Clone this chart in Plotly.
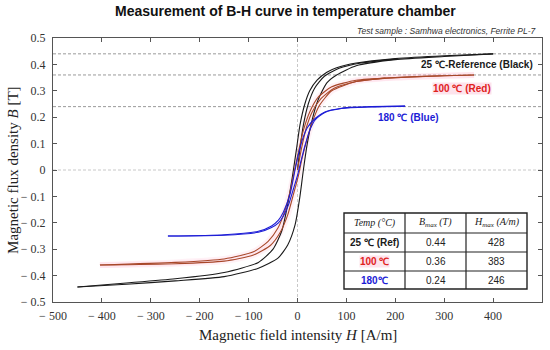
import plotly.graph_objects as go

# ---------------- data ----------------
# 25 C (black) loop
blk_desc_H = [400, 300, 200, 120, 80, 60, 40, 25, 15, 5, -2, -10, -20, -32, -50, -80, -150, -250, -350, -450]
blk_desc_B = [0.44, 0.433, 0.422, 0.405, 0.387, 0.37, 0.34, 0.30, 0.25, 0.17, 0.08, -0.02, -0.13, -0.23, -0.30, -0.35, -0.388, -0.412, -0.428, -0.443]
blk_asc_H = [-450, -350, -250, -150, -80, -40, -20, -5, 5, 12, 20, 30, 42, 60, 80, 120, 200, 300, 400]
blk_asc_B = [-0.443, -0.433, -0.42, -0.404, -0.372, -0.334, -0.284, -0.208, -0.10, 0.0, 0.10, 0.19, 0.265, 0.33, 0.36, 0.395, 0.418, 0.43, 0.44]
blk_init_H = [0, 5, 12, 22, 35, 55, 85, 130, 200]
blk_init_B = [0.0, 0.08, 0.17, 0.25, 0.31, 0.355, 0.385, 0.405, 0.42]

# 100 C (red) loop
red_desc_H = [361, 300, 200, 120, 70, 42, 25, 12, 2, -6, -15, -25, -40, -60, -90, -150, -250, -404]
red_desc_B = [0.36, 0.357, 0.35, 0.34, 0.315, 0.275, 0.22, 0.15, 0.07, 0.0, -0.08, -0.15, -0.22, -0.27, -0.31, -0.337, -0.35, -0.36]
red_asc_H = [-404, -250, -150, -90, -55, -35, -20, -8, 2, 10, 20, 30, 45, 70, 120, 200, 300, 361]
red_asc_B = [-0.36, -0.355, -0.345, -0.322, -0.285, -0.235, -0.17, -0.09, -0.02, 0.05, 0.12, 0.18, 0.245, 0.30, 0.335, 0.35, 0.357, 0.36]
red_init_H = [0, 8, 18, 30, 48, 75, 120, 180]
red_init_B = [0.0, 0.08, 0.16, 0.22, 0.27, 0.31, 0.335, 0.348]

# 180 C (blue) loop
blu_desc_H = [220, 150, 118, 90, 56, 36, 20, 10, 2, -5, -15, -29, -39, -53, -80, -150, -265]
blu_desc_B = [0.242, 0.240, 0.238, 0.234, 0.22, 0.195, 0.16, 0.115, 0.06, 0.0, -0.09, -0.16, -0.19, -0.212, -0.232, -0.245, -0.25]
blu_asc_H = [-265, -150, -80, -53, -39, -29, -18, -8, 0, 8, 15, 25, 36, 56, 90, 150, 220]
blu_asc_B = [-0.25, -0.247, -0.236, -0.218, -0.2, -0.175, -0.13, -0.07, -0.02, 0.04, 0.09, 0.15, 0.19, 0.218, 0.233, 0.239, 0.242]

# table
table_header = ["<i>Temp (°C)</i>", "<i>B<sub>max</sub> (T)</i>", "<i>H<sub>max</sub> (A/m)</i>"]
temps = ["25 ℃ (Ref)", "100 ℃", "180℃"]
bmax = [0.44, 0.36, 0.24]
hmax = [428, 383, 246]

x_ticks = [-500, -400, -300, -200, -100, 0, 100, 200, 300, 400, 500]
y_ticks = [-0.5, -0.4, -0.3, -0.2, -0.1, 0, 0.1, 0.2, 0.3, 0.4, 0.5]
zero_lines = [0]

BLACK = "#1a1a1a"
RED_LINE = "#a8482a"
RED_TXT = "#e0221c"
BLUE = "#1c1cd6"
PINK_BG = "#fde3ec"
SERIF = "Liberation Serif, Times New Roman, serif"
SANS = "Liberation Sans, Arial, sans-serif"

# plot-area geometry (pixels) used to place the table
L, R, T, B = 53, 542, 38, 302


def px(xp):
    return (xp - L) / (R - L)


def py(yp):
    return (B - yp) / (B - T)


def fmt(v, dec):
    s = f"{abs(v):.{dec}f}"
    if v < 0:
        return "− " + s
    return "0" if v == 0 else s


fig = go.Figure()

# faint pink glow under red loop
for h, b in [(red_desc_H, red_desc_B), (red_asc_H, red_asc_B)]:
    fig.add_trace(go.Scatter(x=h, y=b, mode="lines", line=dict(color="rgba(255,190,215,0.22)", width=6, shape="spline", smoothing=0.6),
                             hoverinfo="skip", showlegend=False))

series = [
    (blk_desc_H, blk_desc_B, BLACK), (blk_asc_H, blk_asc_B, BLACK), (blk_init_H, blk_init_B, BLACK),
    (red_desc_H, red_desc_B, RED_LINE), (red_asc_H, red_asc_B, RED_LINE), (red_init_H, red_init_B, RED_LINE),
    (blu_desc_H, blu_desc_B, BLUE), (blu_asc_H, blu_asc_B, BLUE),
]
for h, b, c in series:
    fig.add_trace(go.Scatter(x=h, y=b, mode="lines", line=dict(color=c, width=1.1, shape="spline", smoothing=0.6),
                             showlegend=False))

shapes = []
for v in bmax:
    shapes.append(dict(type="line", xref="paper", x0=0, x1=1, yref="y", y0=v, y1=v, layer="below",
                       line=dict(color="#9a9a9a", width=1, dash="3px,2px")))
for v in zero_lines:
    shapes.append(dict(type="line", xref="paper", x0=0, x1=1, yref="y", y0=v, y1=v, layer="below",
                       line=dict(color="#c8c8c8", width=1, dash="3px,2px")))
    shapes.append(dict(type="line", yref="paper", y0=0, y1=1, xref="x", x0=v, x1=v, layer="below",
                       line=dict(color="#c8c8c8", width=1, dash="3px,2px")))

# ---- table drawn with shapes + annotations ----
col_edges = [344, 405, 466, 527]
row_edges = [213, 233, 252, 271, 289]
shapes.append(dict(type="rect", xref="paper", yref="paper", x0=px(col_edges[0]), x1=px(col_edges[-1]),
                   y0=py(row_edges[-1]), y1=py(row_edges[0]), fillcolor="white", line=dict(color="#222", width=1.4)))
for ce in col_edges[1:-1]:
    shapes.append(dict(type="line", xref="paper", yref="paper", x0=px(ce), x1=px(ce),
                       y0=py(row_edges[-1]), y1=py(row_edges[0]), line=dict(color="#222", width=1.2)))
for re_ in row_edges[1:-1]:
    shapes.append(dict(type="line", xref="paper", yref="paper", x0=px(col_edges[0]), x1=px(col_edges[-1]),
                       y0=py(re_), y1=py(re_), line=dict(color="#222", width=1.2)))

annotations = []
col_c = [(col_edges[i] + col_edges[i + 1]) / 2 for i in range(3)]
row_c = [(row_edges[i] + row_edges[i + 1]) / 2 for i in range(4)]
for j, htxt in enumerate(table_header):
    annotations.append(dict(text=htxt, xref="paper", yref="paper", x=px(col_c[j]), y=py(row_c[0]), showarrow=False,
                            xanchor="center", yanchor="middle", font=dict(family=SERIF, size=10, color="#222")))
temp_colors = [BLACK, RED_TXT, BLUE]
temp_bg = [None, PINK_BG, None]
for i in range(3):
    a = dict(text=f"<b>{temps[i]}</b>", xref="paper", yref="paper", x=px(col_c[0]), y=py(row_c[i + 1]), showarrow=False,
             xanchor="center", yanchor="middle", borderpad=0, font=dict(family=SANS, size=10, color=temp_colors[i]))
    if temp_bg[i]:
        a["bgcolor"] = temp_bg[i]
    annotations.append(a)
    annotations.append(dict(text=f"{bmax[i]:.2f}", xref="paper", yref="paper", x=px(col_c[1]), y=py(row_c[i + 1]),
                            showarrow=False, xanchor="center", yanchor="middle", font=dict(family=SANS, size=10, color="#222")))
    annotations.append(dict(text=str(hmax[i]), xref="paper", yref="paper", x=px(col_c[2]), y=py(row_c[i + 1]),
                            showarrow=False, xanchor="center", yanchor="middle", font=dict(family=SANS, size=10, color="#222")))

annotations += [
    dict(text="<b>Measurement of B-H curve in temperature chamber</b>", xref="paper", yref="paper", x=0.476, y=1.102,
         xanchor="center", yanchor="middle", showarrow=False, font=dict(family=SANS, size=14, color="#111")),
    dict(text="<i>Test sample : Samhwa electronics, Ferrite PL-7</i>", xref="paper", yref="paper", x=0.992, y=1.027,
         xanchor="right", yanchor="middle", showarrow=False, font=dict(family=SANS, size=8.5, color="#333")),
    dict(text="Magnetic field intensity <i>H</i> [A/m]", xref="paper", yref="paper", x=0.501, y=-0.125,
         xanchor="center", yanchor="middle", showarrow=False, font=dict(family=SERIF, size=15, color="#222")),
    dict(text="Magnetic flux density <i>B</i> [T]", xref="paper", yref="paper", x=-0.082, y=0.5, textangle=-90,
         xanchor="center", yanchor="middle", showarrow=False, font=dict(family=SERIF, size=15, color="#222")),
    dict(text="<b>25 ℃-Reference (Black)</b>", x=367, y=0.398, xref="x", yref="y", showarrow=False,
         font=dict(family=SANS, size=10, color=BLACK)),
    dict(text="<b>100 ℃ (Red)</b>", x=336, y=0.307, xref="x", yref="y", showarrow=False, bgcolor=PINK_BG,
         borderpad=0, font=dict(family=SANS, size=10, color=RED_TXT)),
    dict(text="<b>180 ℃ (Blue)</b>", x=226, y=0.197, xref="x", yref="y", showarrow=False,
         font=dict(family=SANS, size=10, color=BLUE)),
]

axis_common = dict(showline=True, linecolor="#555", linewidth=1, mirror="ticks", ticks="inside", ticklen=4,
                   tickcolor="#555", showgrid=False, zeroline=False, automargin=False,
                   tickfont=dict(family=SERIF, size=12, color="#333"))

fig.update_layout(
    width=550, height=350,
    margin=dict(l=L, r=550 - R, t=T, b=350 - B),
    paper_bgcolor="white", plot_bgcolor="white",
    xaxis=dict(range=[-500, 500], tickvals=x_ticks, ticktext=[fmt(v, 0) for v in x_ticks], ticklabelstandoff=3, **axis_common),
    yaxis=dict(range=[-0.5, 0.5], tickvals=y_ticks, ticktext=[fmt(v, 1) for v in y_ticks], ticklabelstandoff=4, **axis_common),
    shapes=shapes, annotations=annotations, showlegend=False,
)

fig.write_html("out.html", config={"displayModeBar": False}, post_script="document.body.style.margin='0px';")
